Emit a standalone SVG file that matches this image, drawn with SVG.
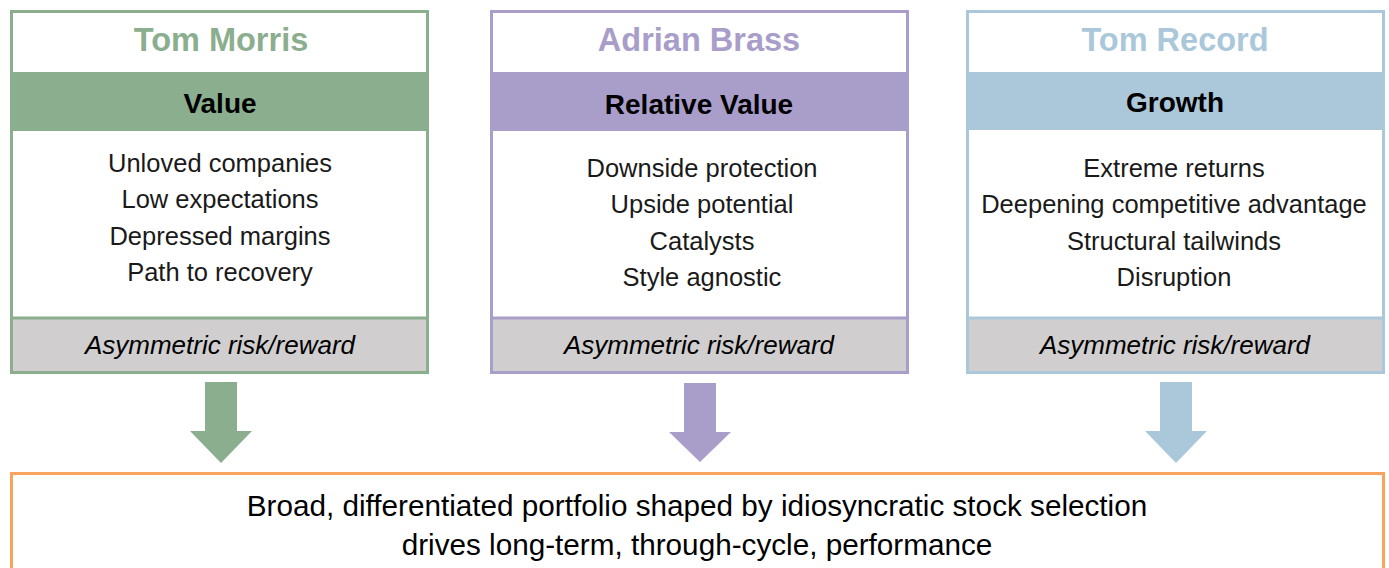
<svg xmlns="http://www.w3.org/2000/svg" width="1389" height="568" viewBox="0 0 1389 568">
<style>
.t{font-family:"Liberation Sans",Arial,sans-serif;text-anchor:middle}
.name{font-size:32.5px;font-weight:bold}
.band{font-size:28px;font-weight:bold;fill:#000}
.body{font-size:25.5px;fill:#1a1a1a}
.risk{font-size:26px;font-style:italic;fill:#000}
.bottom{font-size:29.7px;fill:#000}
.grey{fill:#D0CECE}
</style>
<rect width="1389" height="568" fill="#fff"/>
<g id="tom-morris">
  <rect x="11.5" y="11.5" width="416" height="361" fill="#fff" stroke="#8AAE8E" stroke-width="3"/>
  <rect x="13" y="72" width="413" height="59" fill="#8AAE8E"/>
  <rect x="13" y="319" width="413" height="52" class="grey"/>
  <line x1="13" y1="318" x2="426" y2="318" stroke="#8AAE8E" stroke-width="3"/>
  <text class="t name" x="221" y="51" fill="#8AAE8E">Tom Morris</text>
  <text class="t band" x="220" y="113">Value</text>
  <text class="t body" x="220" y="172">Unloved companies</text>
  <text class="t body" x="220" y="208">Low expectations</text>
  <text class="t body" x="220" y="245">Depressed margins</text>
  <text class="t body" x="220" y="281">Path to recovery</text>
  <text class="t risk" x="220" y="354">Asymmetric risk/reward</text>
</g>
<g id="adrian-brass">
  <rect x="491.5" y="11.5" width="416" height="361" fill="#fff" stroke="#A99DCA" stroke-width="3"/>
  <rect x="493" y="72" width="413" height="59" fill="#A99DCA"/>
  <rect x="493" y="319" width="413" height="52" class="grey"/>
  <line x1="493" y1="318" x2="906" y2="318" stroke="#A99DCA" stroke-width="3"/>
  <text class="t name" x="699" y="51" fill="#A99DCA">Adrian Brass</text>
  <text class="t band" x="699" y="114">Relative Value</text>
  <text class="t body" x="702" y="177">Downside protection</text>
  <text class="t body" x="702" y="213">Upside potential</text>
  <text class="t body" x="702" y="250">Catalysts</text>
  <text class="t body" x="702" y="286">Style agnostic</text>
  <text class="t risk" x="699" y="354">Asymmetric risk/reward</text>
</g>
<g id="tom-record">
  <rect x="967.5" y="11.5" width="416" height="361" fill="#fff" stroke="#ABC7DA" stroke-width="3"/>
  <rect x="969" y="72" width="413" height="58" fill="#ABC7DA"/>
  <rect x="969" y="319" width="413" height="52" class="grey"/>
  <line x1="969" y1="318" x2="1382" y2="318" stroke="#ABC7DA" stroke-width="3"/>
  <text class="t name" x="1175" y="51" fill="#ABC7DA">Tom Record</text>
  <text class="t band" x="1175" y="112">Growth</text>
  <text class="t body" x="1174" y="177">Extreme returns</text>
  <text class="t body" x="1174" y="213">Deepening competitive advantage</text>
  <text class="t body" x="1174" y="250">Structural tailwinds</text>
  <text class="t body" x="1174" y="286">Disruption</text>
  <text class="t risk" x="1175" y="354">Asymmetric risk/reward</text>
</g>
<g id="connectors">
  <polygon points="205,382 237,382 237,431 252,431 221,463 190,431 205,431" fill="#8AAE8E"/>
  <polygon points="684,383 716,383 716,432 731,432 700,462 669,432 684,432" fill="#A99DCA"/>
  <polygon points="1160,382 1192,382 1192,431 1207,431 1176,463 1145,431 1160,431" fill="#ABC7DA"/>
</g>
<g id="portfolio">
  <rect x="11.5" y="473.5" width="1372" height="120" fill="#fff" stroke="#F9A35F" stroke-width="3"/>
  <text class="t bottom" x="697" y="516">Broad, differentiated portfolio shaped by idiosyncratic stock selection</text>
  <text class="t bottom" x="697" y="555">drives long-term, through-cycle, performance</text>
</g>
</svg>
